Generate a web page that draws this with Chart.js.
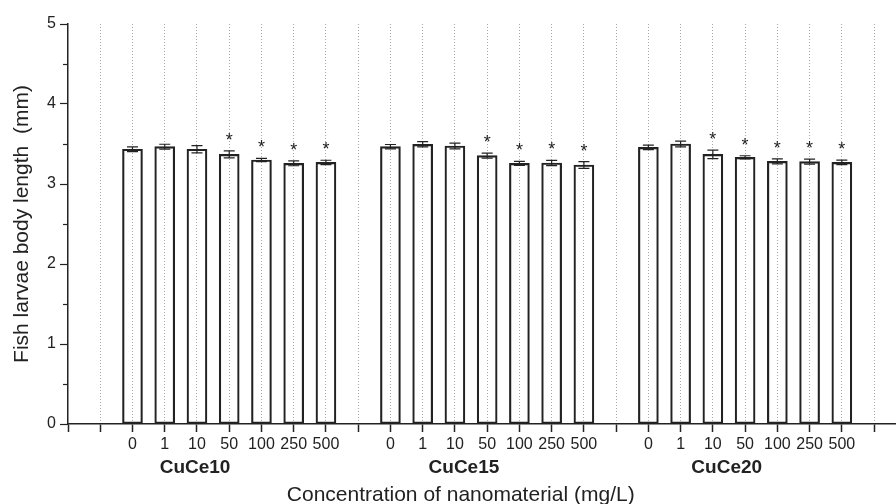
<!DOCTYPE html>
<html>
<head>
<meta charset="utf-8">
<script src="https://cdn.jsdelivr.net/npm/chart.js@4.4.1/dist/chart.umd.min.js"></script>
<style>
  html, body { margin: 0; padding: 0; background: #fff; }
  #wrap { width: 896px; height: 504px; }
</style>
</head>
<body>
<div id="wrap"><canvas id="c" width="896" height="504"></canvas></div>
<script>
// ---- data ----
const concentrations = ['0', '1', '10', '50', '100', '250', '500'];
const groups = ['CuCe10', 'CuCe15', 'CuCe20'];

const cuce10Mean = [3.434, 3.467, 3.434, 3.370, 3.300, 3.258, 3.270];
const cuce10Err  = [0.030, 0.030, 0.045, 0.044, 0.020, 0.030, 0.027];
const cuce10Sig  = [false, false, false, true, true, true, true];

const cuce15Mean = [3.467, 3.496, 3.475, 3.354, 3.258, 3.262, 3.237];
const cuce15Err  = [0.027, 0.033, 0.035, 0.031, 0.025, 0.033, 0.042];
const cuce15Sig  = [false, false, false, true, true, true, true];

const cuce20Mean = [3.458, 3.500, 3.370, 3.333, 3.283, 3.279, 3.270];
const cuce20Err  = [0.029, 0.037, 0.054, 0.020, 0.031, 0.031, 0.029];
const cuce20Sig  = [false, false, true, true, true, true, true];

const yTickValues = [0, 1, 2, 3, 4, 5];

const xTitle = 'Concentration of nanomaterial (mg/L)';
const yTitle = 'Fish larvae body length  (mm)';

// ---- build ----
const means = [cuce10Mean, cuce15Mean, cuce20Mean];
const errs = [cuce10Err, cuce15Err, cuce20Err];
const sigs = [cuce10Sig, cuce15Sig, cuce20Sig];

const FIRST = 2, STRIDE = 8;
const points = [];
means.forEach((arr, g) => arr.forEach((m, i) => {
  points.push({ x: FIRST + STRIDE * g + i, y: m, err: errs[g][i], sig: sigs[g][i] });
}));

function labelFor(v) {
  const k = v - FIRST;
  if (k < 0 || Math.round(k) !== k) return '';
  const g = Math.floor(k / STRIDE), i = k - STRIDE * g;
  if (g >= groups.length || i >= concentrations.length) return '';
  return concentrations[i];
}

const FONT = "'Liberation Sans', Arial, sans-serif";
const INK = '#222';
const groupLabelPos = [3.94, 12.28, 20.43];

const extras = {
  id: 'extras',
  afterDatasetsDraw(chart) {
    const { ctx, scales: { x, y } } = chart;
    ctx.save();
    ctx.strokeStyle = INK;
    ctx.lineWidth = 1.2;
    points.forEach(p => {
      const px = x.getPixelForValue(p.x);
      const yt = y.getPixelForValue(p.y + p.err);
      const yb = y.getPixelForValue(p.y - p.err);
      ctx.beginPath();
      ctx.moveTo(px, yt); ctx.lineTo(px, yb);
      ctx.moveTo(px - 5.5, yt); ctx.lineTo(px + 5.5, yt);
      ctx.moveTo(px - 5.5, yb); ctx.lineTo(px + 5.5, yb);
      ctx.stroke();
      if (p.sig) {
        ctx.fillStyle = INK;
        ctx.font = '18px ' + FONT;
        ctx.textAlign = 'center';
        ctx.textBaseline = 'alphabetic';
        ctx.fillText('*', px, yt - 5);
      }
    });
    ctx.restore();
  },
  afterDraw(chart) {
    const { ctx, scales: { x, y } } = chart;
    ctx.save();
    // minor y ticks
    ctx.strokeStyle = INK;
    ctx.lineWidth = 1.2;
    for (let v = 0.5; v < 5; v += 1) {
      const py = Math.round(y.getPixelForValue(v)) + 0.5;
      ctx.beginPath();
      ctx.moveTo(x.left - 5, py); ctx.lineTo(x.left, py);
      ctx.stroke();
    }
    // group labels
    ctx.fillStyle = INK;
    ctx.font = 'bold 19px ' + FONT;
    ctx.textAlign = 'center';
    ctx.textBaseline = 'middle';
    groups.forEach((g, k) => {
      ctx.fillText(g, x.getPixelForValue(groupLabelPos[k]), 468);
    });
    // x title
    ctx.font = '21px ' + FONT;
    ctx.fillText(xTitle, x.getPixelForValue(12.18), 495);
    ctx.restore();
  }
};

new Chart(document.getElementById('c'), {
  type: 'bar',
  data: {
    datasets: [{
      data: points,
      backgroundColor: 'rgba(255,255,255,0)',
      borderColor: INK,
      borderWidth: 1.5,
      borderSkipped: false,
      barThickness: 20
    }]
  },
  options: {
    responsive: false,
    animation: false,
    events: [],
    layout: { padding: { top: 24, right: 0, left: 0, bottom: 0 } },
    plugins: { legend: { display: false }, tooltip: { enabled: false } },
    scales: {
      x: {
        type: 'linear',
        min: 0,
        max: 25.68,
        offset: false,
        afterFit(s) { s.height = 80; },
        ticks: {
          stepSize: 1,
          includeBounds: false,
          autoSkip: false,
          maxRotation: 0,
          padding: 3,
          color: INK,
          font: { family: FONT, size: 16 },
          callback: (v) => labelFor(v)
        },
        grid: {
          offset: false,
          drawOnChartArea: true,
          drawTicks: true,
          tickLength: 8,
          tickColor: INK,
          tickWidth: 1.5,
          tickBorderDash: [],
          lineWidth: 1,
          color: (c) => (c.tick && c.tick.value === 0) ? 'rgba(0,0,0,0)' : '#a8a8a8'
        },
        border: { display: true, color: INK, width: 1.5, dash: [1, 2] }
      },
      y: {
        min: 0,
        max: 5,
        afterFit(s) { s.width = 68; },
        afterBuildTicks(s) { s.ticks = yTickValues.map(v => ({ value: v })); },
        ticks: {
          padding: 4,
          color: INK,
          font: { family: FONT, size: 16 }
        },
        grid: {
          drawOnChartArea: false,
          drawTicks: true,
          tickLength: 8,
          tickColor: INK,
          tickWidth: 1.2
        },
        border: { display: true, color: INK, width: 1.5 },
        title: {
          display: true,
          text: yTitle,
          color: INK,
          font: { family: FONT, size: 21 },
          padding: { top: 10, bottom: 0 }
        }
      }
    }
  },
  plugins: [extras]
});
</script>
</body>
</html>
